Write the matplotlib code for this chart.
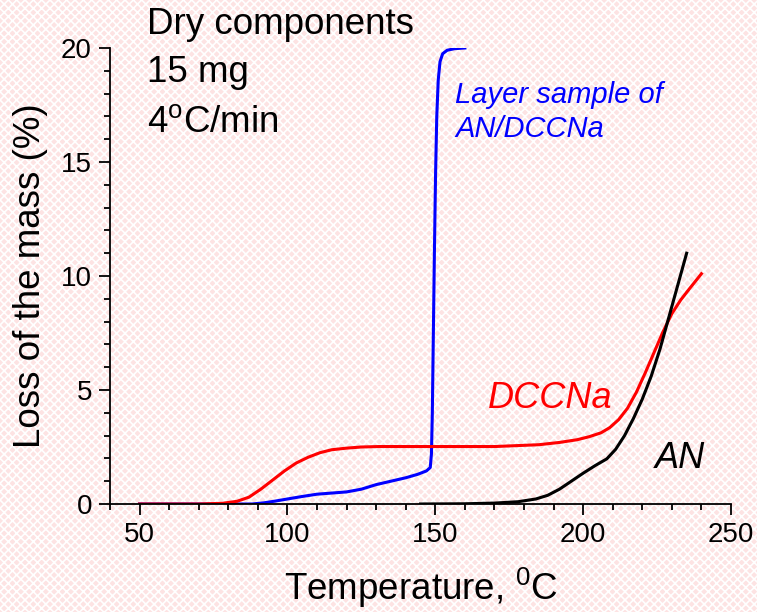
import matplotlib
matplotlib.use("Agg")
import matplotlib.pyplot as plt
from matplotlib.patches import Rectangle
from matplotlib.ticker import MultipleLocator

plt.rcParams['font.family'] = ['Liberation Sans', 'DejaVu Sans']
plt.rcParams['mathtext.default'] = 'regular'
plt.rcParams['hatch.linewidth'] = 1.2

# Layer sample of AN/DCCNa (blue)
layer_T = [50, 70, 88, 92, 96, 100, 105, 110, 115, 120, 125, 130, 135, 140, 144, 147, 148.3, 148.7,
           149.0, 149.3, 149.7, 150.1, 150.5, 151.0, 151.6, 152.5, 154.0, 156.5, 160]
layer_L = [0, 0, 0, 0.05, 0.13, 0.22, 0.33, 0.43, 0.48, 0.53, 0.65, 0.85, 1.0, 1.15, 1.3, 1.45, 1.6, 2.2,
           4.0, 7.0, 11.0, 14.5, 17.0, 18.6, 19.4, 19.75, 19.9, 19.97, 20.0]

# DCCNa (red)
dccna_T = [50, 70, 78, 83, 87, 91, 95, 99, 103, 107, 111, 115, 120, 125, 131, 150, 170, 185, 192,
           198, 202, 206, 209, 212, 215, 218, 221, 224, 227, 230, 233, 236, 240]
dccna_L = [0, 0, 0.03, 0.12, 0.3, 0.65, 1.05, 1.45, 1.8, 2.05, 2.25, 2.38, 2.45, 2.5, 2.52, 2.52, 2.52,
           2.6, 2.7, 2.82, 2.95, 3.12, 3.35, 3.7, 4.2, 4.9, 5.75, 6.65, 7.55, 8.35, 8.95, 9.45, 10.1]

# AN (black)
an_T = [145, 160, 170, 178, 184, 188, 192, 196, 200, 204, 208, 211, 214, 217, 220, 223, 226, 229, 232, 235]
an_L = [0, 0.01, 0.04, 0.1, 0.22, 0.38, 0.65, 1.0, 1.35, 1.68, 1.98, 2.4, 3.0, 3.75, 4.6, 5.6, 6.8, 8.2, 9.6, 11.0]

x_ticks = [50, 100, 150, 200, 250]
y_ticks = [0, 5, 10, 15, 20]

fig = plt.figure(figsize=(7.57, 6.12), dpi=100)
bg = '#fde3e3'
fig.patch.set_facecolor(bg)
fig.patches.append(Rectangle((0, 0), 1, 1, transform=fig.transFigure, facecolor=bg,
                             edgecolor='#ffffff', hatch='xxxx', linewidth=0, zorder=-10))

ax = fig.add_axes([110/757, 1 - 504/612, (731 - 110)/757, (504 - 48)/612])
ax.set_facecolor('none')

ax.plot(layer_T, layer_L, color='#0000ff', lw=2.2)
ax.plot(dccna_T, dccna_L, color='#ff0000', lw=2.2)
ax.plot(an_T, an_L, color='#000000', lw=2.2)

ax.set_xlim(40, 250)
ax.set_ylim(0, 20)
ax.set_xticks(x_ticks)
ax.set_yticks(y_ticks)
ax.xaxis.set_minor_locator(MultipleLocator(10))
ax.yaxis.set_minor_locator(MultipleLocator(1))
for s in ['top', 'right']:
    ax.spines[s].set_visible(False)
for s in ['left', 'bottom']:
    ax.spines[s].set_linewidth(1.3)
ax.tick_params(which='major', direction='out', length=8, width=1.3, labelsize=20, pad=5)
ax.tick_params(which='minor', direction='out', length=4.5, width=1.3)

ax.set_xlabel('Temperature, $^{0}$C', fontsize=26.5, labelpad=13)
ax.set_ylabel('Loss of the mass (%)', fontsize=26.5, labelpad=9)

fig.text(147/757, 1 - 25/612, 'Dry components', fontsize=26.5, va='center', ha='left')
fig.text(147/757, 1 - 72/612, '15 mg', fontsize=26.5, va='center', ha='left')
fig.text(147/757, 1 - 122/612, '4$^{o}$C/min', fontsize=26.5, va='center', ha='left')

fig.text(455/757, 1 - 95/612, 'Layer sample of', color='#0000ff', fontsize=21, style='italic',
         ha='left', va='center')
fig.text(455/757, 1 - 129/612, 'AN/DCCNa', color='#0000ff', fontsize=21, style='italic',
         ha='left', va='center')
fig.text(488/757, 1 - 398/612, 'DCCNa', color='#ff0000', fontsize=26, style='italic', ha='left', va='center')
fig.text(655/757, 1 - 458/612, 'AN', color='#000000', fontsize=26, style='italic', ha='left', va='center')

fig.savefig('out.png', dpi=100, facecolor=fig.get_facecolor())
